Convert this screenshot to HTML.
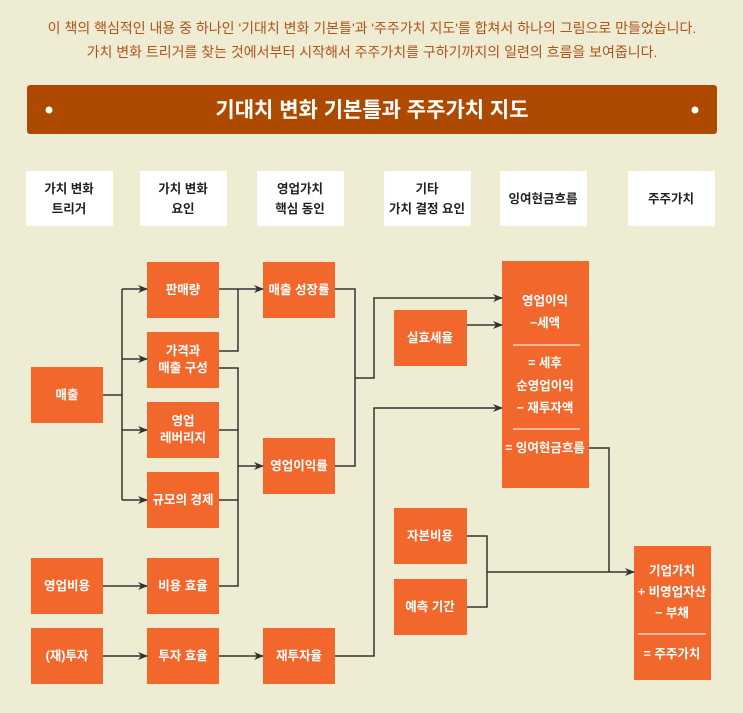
<!DOCTYPE html>
<html><head><meta charset="utf-8"><style>
html,body{margin:0;padding:0;background:#eeecd3;}
svg{display:block}
text{font-family:"Liberation Sans","Noto Sans CJK KR",sans-serif;}
</style></head><body>
<svg width="743" height="713" viewBox="0 0 743 713" xmlns="http://www.w3.org/2000/svg">
<defs><marker id="a" markerWidth="10" markerHeight="8" refX="9" refY="4" orient="auto" markerUnits="userSpaceOnUse"><path d="M0,0 L10,4 L0,8 L3,4 z" fill="#333"/></marker></defs>
<rect width="743" height="713" fill="#eeecd3"/>
<g fill="#b0531a" font-size="14" text-anchor="middle">
<text x="372" y="33">이 책의 핵심적인 내용 중 하나인 '기대치 변화 기본틀'과 '주주가치 지도'를 합쳐서 하나의 그림으로 만들었습니다.</text>
<text x="372" y="57">가치 변화 트리거를 찾는 것에서부터 시작해서 주주가치를 구하기까지의 일련의 흐름을 보여줍니다.</text>
</g>
<rect x="27" y="85" width="690" height="49" rx="3" fill="#ae4900"/>
<circle cx="49" cy="110" r="3.5" fill="#fff"/><circle cx="695" cy="110" r="3.5" fill="#fff"/>
<text x="372" y="117" fill="#fff" font-size="21" font-weight="bold" text-anchor="middle">기대치 변화 기본틀과 주주가치 지도</text>
<g fill="#fff"><rect x="26" y="171" width="87" height="55"/><rect x="140" y="171" width="87" height="55"/><rect x="257" y="171" width="87" height="55"/><rect x="384" y="171" width="87" height="55"/><rect x="500" y="171" width="87" height="55"/><rect x="628" y="171" width="87" height="55"/></g>
<g fill="#222" font-size="12.5" font-weight="bold" text-anchor="middle">
<text x="69" y="193">가치 변화</text><text x="69" y="213">트리거</text>
<text x="183" y="193">가치 변화</text><text x="183" y="213">요인</text>
<text x="300" y="193">영업가치</text><text x="300" y="213">핵심 동인</text>
<text x="427" y="193">기타</text><text x="427" y="213">가치 결정 요인</text>
<text x="543" y="203">잉여현금흐름</text>
<text x="671" y="203">주주가치</text>
</g>
<g fill="#f2682c">
<rect x="31" y="367" width="72" height="56"/><rect x="31" y="558" width="72" height="56"/><rect x="31" y="628" width="72" height="56"/>
<rect x="147" y="262" width="72" height="56"/><rect x="147" y="332" width="72" height="56"/><rect x="147" y="402" width="72" height="56"/><rect x="147" y="472" width="72" height="56"/><rect x="147" y="558" width="72" height="56"/><rect x="147" y="628" width="72" height="56"/>
<rect x="263" y="262" width="72" height="56"/><rect x="263" y="438" width="72" height="56"/><rect x="263" y="628" width="72" height="56"/>
<rect x="394" y="310" width="73" height="56"/><rect x="394" y="508" width="73" height="56"/><rect x="394" y="579" width="73" height="56"/>
<rect x="502" y="261" width="87" height="227"/><rect x="634" y="546" width="77" height="134"/>
</g>
<g fill="#fff" font-size="12.5" font-weight="bold" text-anchor="middle">
<text x="67" y="399">매출</text><text x="67" y="590">영업비용</text><text x="67" y="660">(재)투자</text>
<text x="183" y="294">판매량</text><text x="183" y="355">가격과</text><text x="183" y="372">매출 구성</text>
<text x="183" y="425">영업</text><text x="183" y="442">레버리지</text><text x="183" y="504">규모의 경제</text>
<text x="183" y="590">비용 효율</text><text x="183" y="660">투자 효율</text>
<text x="299" y="294">매출 성장률</text><text x="299" y="470">영업이익률</text><text x="299" y="660">재투자율</text>
<text x="430" y="342">실효세율</text><text x="430" y="540">자본비용</text><text x="430" y="611">예측 기간</text>
<text x="545" y="305">영업이익</text><text x="545" y="327">−세액</text>
<text x="545" y="367">= 세후</text><text x="545" y="390">순영업이익</text><text x="545" y="412">− 재투자액</text>
<text x="545" y="452">= 잉여현금흐름</text>
<text x="672" y="575">기업가치</text><text x="672" y="596">+ 비영업자산</text><text x="672" y="617">− 부채</text>
<text x="672" y="658">= 주주가치</text>
</g>
<g stroke="#fff" stroke-width="1.3" opacity="0.85"><line x1="513" y1="345" x2="580" y2="345"/><line x1="513" y1="429" x2="580" y2="429"/><line x1="638" y1="634" x2="706" y2="634"/></g>
<g stroke="#333" stroke-width="1.5" fill="none">
<polyline points="103,395 122,395"/><line x1="122" y1="289" x2="122" y2="500"/>
<line x1="122" y1="289" x2="147" y2="289" marker-end="url(#a)"/><line x1="122" y1="359" x2="147" y2="359" marker-end="url(#a)"/><line x1="122" y1="430" x2="147" y2="430" marker-end="url(#a)"/><line x1="122" y1="500" x2="147" y2="500" marker-end="url(#a)"/>
<line x1="219" y1="289" x2="263" y2="289" marker-end="url(#a)"/><polyline points="219,351 238,351 238,289"/>
<polyline points="219,368 238,368 238,586 219,586"/><line x1="219" y1="430" x2="238" y2="430"/><line x1="219" y1="500" x2="238" y2="500"/>
<line x1="238" y1="466" x2="263" y2="466" marker-end="url(#a)"/>
<line x1="103" y1="586" x2="147" y2="586" marker-end="url(#a)"/><line x1="103" y1="656" x2="147" y2="656" marker-end="url(#a)"/><line x1="219" y1="656" x2="263" y2="656" marker-end="url(#a)"/>
<polyline points="335,289 355,289 355,466 335,466"/><polyline points="355,378 374,378 374,298 502,298" marker-end="url(#a)"/>
<line x1="467" y1="325" x2="502" y2="325" marker-end="url(#a)"/>
<polyline points="335,656 374,656 374,408 502,408" marker-end="url(#a)"/>
<polyline points="589,448 609,448 609,572"/>
<polyline points="467,536 487,536 487,607 467,607"/><line x1="487" y1="572" x2="634" y2="572" marker-end="url(#a)"/>
</g>
</svg>
</body></html>
